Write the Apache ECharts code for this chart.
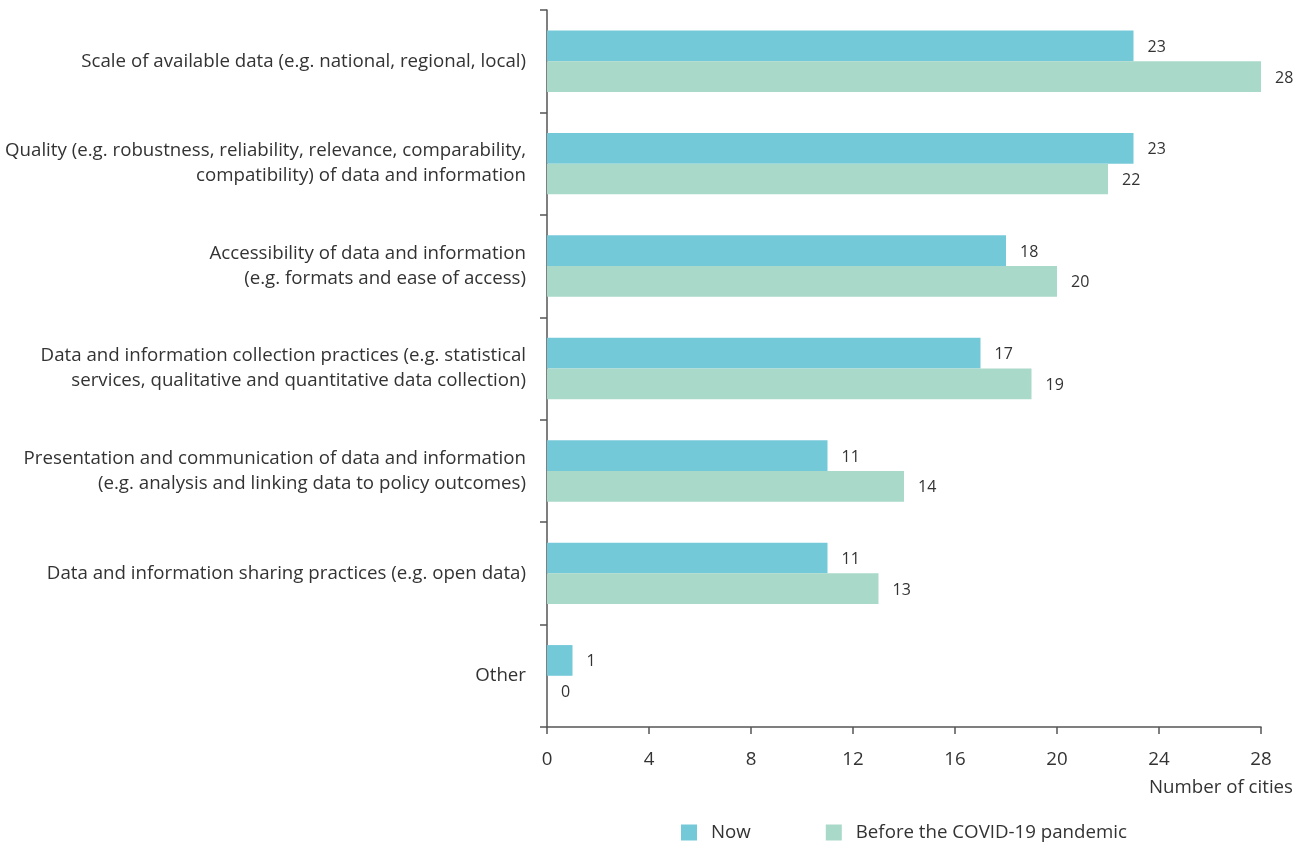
<!DOCTYPE html>
<html>
<head>
<meta charset="utf-8">
<script src="https://cdn.jsdelivr.net/npm/echarts@6/dist/echarts.min.js"></script>
<style>
  html, body { margin: 0; padding: 0; background: #ffffff; }
  #chart { width: 1305px; height: 843px; }
</style>
</head>
<body>
<div id="chart"></div>
<script>
// Challenges in data and information, number of cities
const categories = [
  'Scale of available data (e.g. national, regional, local)',
  'Quality (e.g. robustness, reliability, relevance, comparability,\ncompatibility) of data and information',
  'Accessibility of data and information\n(e.g. formats and ease of access)',
  'Data and information collection practices (e.g. statistical\nservices, qualitative and quantitative data collection)',
  'Presentation and communication of data and information\n(e.g. analysis and linking data to policy outcomes)',
  'Data and information sharing practices (e.g. open data)',
  'Other'
];
const nowValues = [23, 23, 18, 17, 11, 11, 1];
const beforeValues = [28, 22, 20, 19, 14, 13, 0];
const xTicks = { min: 0, max: 28, interval: 4 };

const FONT = '"Open Sans", "Noto Sans", sans-serif';
const TEXT = '#333333';
const AXIS = '#555555';
const SIZE = 18.7;

const chart = echarts.init(document.getElementById('chart'), null, { renderer: 'canvas' });

const valueLabel = {
  show: true,
  position: 'right',
  distance: 14,
  offset: [0, 1.5],
  color: TEXT,
  fontFamily: FONT,
  fontSize: 16
};

chart.setOption({
  animation: false,
  textStyle: { fontFamily: FONT },
  grid: { left: 547, right: 44, top: 10, bottom: 116, containLabel: false },
  legend: {
    left: 676,
    top: 818,
    itemWidth: 16,
    itemHeight: 16,
    itemGap: 75,
    icon: 'rect',
    textStyle: { color: TEXT, fontFamily: FONT, fontSize: SIZE, padding: [0, 0, 0, 9] },
    data: ['Now', 'Before the COVID-19 pandemic']
  },
  xAxis: {
    type: 'value',
    min: xTicks.min,
    max: xTicks.max,
    interval: xTicks.interval,
    name: 'Number of cities',
    nameLocation: 'end',
    nameGap: 32,
    nameTextStyle: {
      color: TEXT, fontFamily: FONT, fontSize: SIZE,
      align: 'right', verticalAlign: 'top', padding: [51, 0, 0, 0]
    },
    axisLine: { show: true, lineStyle: { color: AXIS, width: 1.5 } },
    axisTick: { show: true, length: 7, lineStyle: { color: AXIS, width: 1.5 } },
    axisLabel: { color: TEXT, fontFamily: FONT, fontSize: SIZE, margin: 23 },
    splitLine: { show: false }
  },
  yAxis: {
    type: 'category',
    inverse: true,
    data: categories,
    axisLine: { show: true, lineStyle: { color: AXIS, width: 1.5 } },
    axisTick: { show: true, length: 7, alignWithLabel: false, lineStyle: { color: AXIS, width: 1.5 } },
    axisLabel: {
      color: TEXT, fontFamily: FONT, fontSize: SIZE, margin: 21,
      align: 'right', lineHeight: 25, padding: [2, 0, 0, 0]
    }
  },
  series: [
    {
      name: 'Now',
      type: 'bar',
      data: nowValues,
      barGap: '0%',
      barCategoryGap: '40%',
      itemStyle: { color: '#74c9d9' },
      label: valueLabel
    },
    {
      name: 'Before the COVID-19 pandemic',
      type: 'bar',
      data: beforeValues,
      barGap: '0%',
      barCategoryGap: '40%',
      itemStyle: { color: '#a9d9c9' },
      label: valueLabel
    }
  ]
});
</script>
</body>
</html>
